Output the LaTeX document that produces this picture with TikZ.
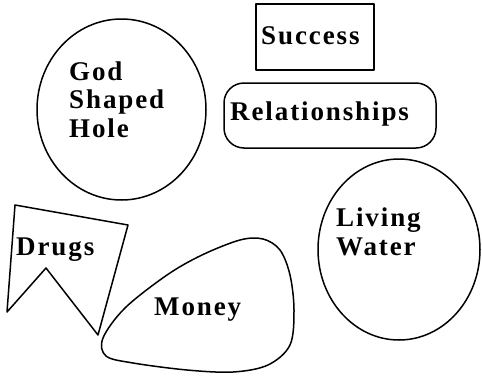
\documentclass[tikz,border=0pt]{standalone}
\usepackage{fontspec}
\newfontfamily\blurbfont{Liberation Serif Bold}[LetterSpace=7]
\usetikzlibrary{calc}

\tikzset{
	outline/.style={line width=1.5pt, line join=round},
	blurb/.style={font={\blurbfont\fontsize{27}{28.5}\selectfont}, align=left, inner sep=0pt, anchor=base west}
}

\begin{document}
\begin{tikzpicture}[x=1pt,y=-1pt]
	\useasboundingbox (0,0) rectangle (482,375);

	% the shapes
	\draw[outline] (121.5,109.5) ellipse [x radius=84.5, y radius=90.5];
	\draw[outline] (399,249.5) ellipse [x radius=81, y radius=90.5];
	\draw[outline] (256,4) rectangle (374,70);
	\draw[outline, rounded corners=20pt] (224,83) rectangle (436,148);
	\draw[outline] (15,205) -- (128,225) -- (98,335) -- (46,268) -- (7,312) -- cycle;
	\draw[outline] plot[smooth cycle, tension=0.55] coordinates {(103,338) (125,308) (167,275) (202,255) (240,240) (263,239) (280,250) (290,275) (294,310) (290,345) (268,365) (233,372) (187,370) (133,363) (106,356)};

	% the words (base west = baseline of the last line)
	\node[blurb] (god) at (69,137) {God\\Shaped\\Hole};
	\node[blurb] (success) at (261,44) {Success};
	\node[blurb] (relations) at (230,120) {Relationships};
	\node[blurb] (water) at (336,255) {Living\\Water};
	\node[blurb] (drugs) at (16,255) {Drugs};
	\node[blurb] (money) at (154,315) {Money};
\end{tikzpicture}
\end{document}
